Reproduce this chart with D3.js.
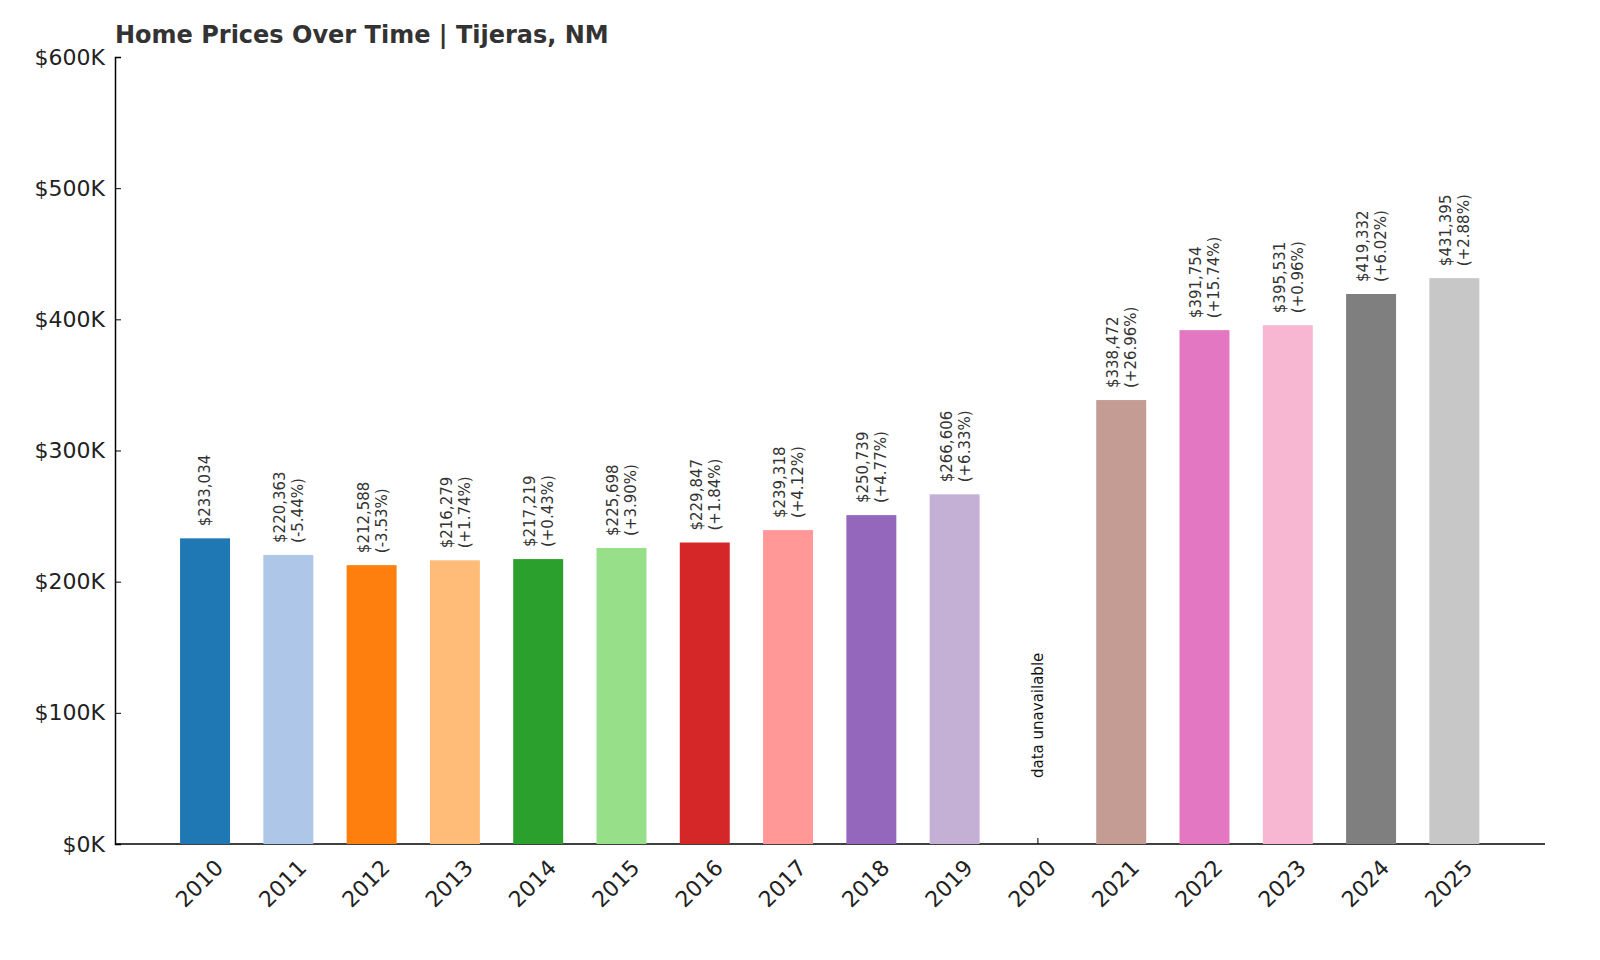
<!DOCTYPE html>
<html><head><meta charset="utf-8">
<script src="https://cdn.jsdelivr.net/npm/d3@7"></script>
<style>body{margin:0;background:#fff}</style></head>
<body><svg id="c" width="1600" height="960"></svg>
<script>
const years=["2010","2011","2012","2013","2014","2015","2016","2017","2018","2019","2020","2021","2022","2023","2024","2025"];
const values=[233034,220363,212588,216279,217219,225698,229847,239318,250739,266606,null,338472,391754,395531,419332,431395];
const changes=[null,"-5.44%","-3.53%","+1.74%","+0.43%","+3.90%","+1.84%","+4.12%","+4.77%","+6.33%",null,"+26.96%","+15.74%","+0.96%","+6.02%","+2.88%"];
const colors=["#1f77b4","#aec7e8","#ff7f0e","#ffbb78","#2ca02c","#98df8a","#d62728","#ff9896","#9467bd","#c5b0d5","#8c564b","#c49c94","#e377c2","#f7b6d2","#7f7f7f","#c7c7c7"];
const yTicks=[0,100000,200000,300000,400000,500000,600000];
const svg=d3.select("#c").style("font-family","DejaVu Sans");
const x=d3.scaleBand().domain(years).range([163.4,1496]).paddingInner(0.4).paddingOuter(0.2);
const y=d3.scaleLinear().domain([0,600000]).range([844,57]);
svg.append("text").attr("x",115).attr("y",43).attr("font-size",24).attr("font-weight","bold").attr("fill","#333").text("Home Prices Over Time | Tijeras, NM");
const ya=svg.append("g").attr("transform","translate(115,0)").call(d3.axisLeft(y).tickValues(yTicks).tickSize(-6).tickPadding(10).tickFormat(d=>"$"+d/1000+"K"));
ya.selectAll("text").attr("font-size",22).attr("fill","#222").attr("font-family","DejaVu Sans");
const xa=svg.append("g").attr("transform","translate(0,844)").call(d3.axisBottom(x).tickSize(-6).tickSizeOuter(0).tickPadding(12));
xa.select(".domain").attr("d","M115,0H1545");
xa.selectAll("text").attr("font-size",22).attr("fill","#222").attr("font-family","DejaVu Sans").attr("text-anchor","end").attr("transform","rotate(-45) translate(-4,4)");
ya.select(".domain").attr("stroke-width",1.5);xa.select(".domain").attr("stroke-width",1.5);
const data=years.map((yr,i)=>({yr,v:values[i],c:changes[i],col:colors[i]}));
svg.selectAll("rect.b").data(data.filter(d=>d.v!=null)).join("rect").attr("x",d=>x(d.yr)).attr("width",x.bandwidth()).attr("y",d=>y(d.v)).attr("height",d=>844-y(d.v)).attr("fill",d=>d.col);
data.forEach(d=>{
  const cx=x(d.yr)+x.bandwidth()/2;
  if(d.v==null){
    svg.append("text").attr("transform",`translate(${cx+5},778) rotate(-90)`).attr("font-size",15).attr("fill","#111").text("data unavailable");
    return;
  }
  const t=svg.append("text").attr("transform",`translate(${cx},${y(d.v)-12}) rotate(-90)`).attr("font-size",15).attr("fill","#333");
  const lines=["$"+d3.format(",")(d.v)];if(d.c)lines.push("("+d.c+")");
  const off=lines.length==1?5:-3;
  lines.forEach((l,j)=>t.append("tspan").attr("x",0).attr("y",off+j*18).text(l));
});
</script></body></html>
